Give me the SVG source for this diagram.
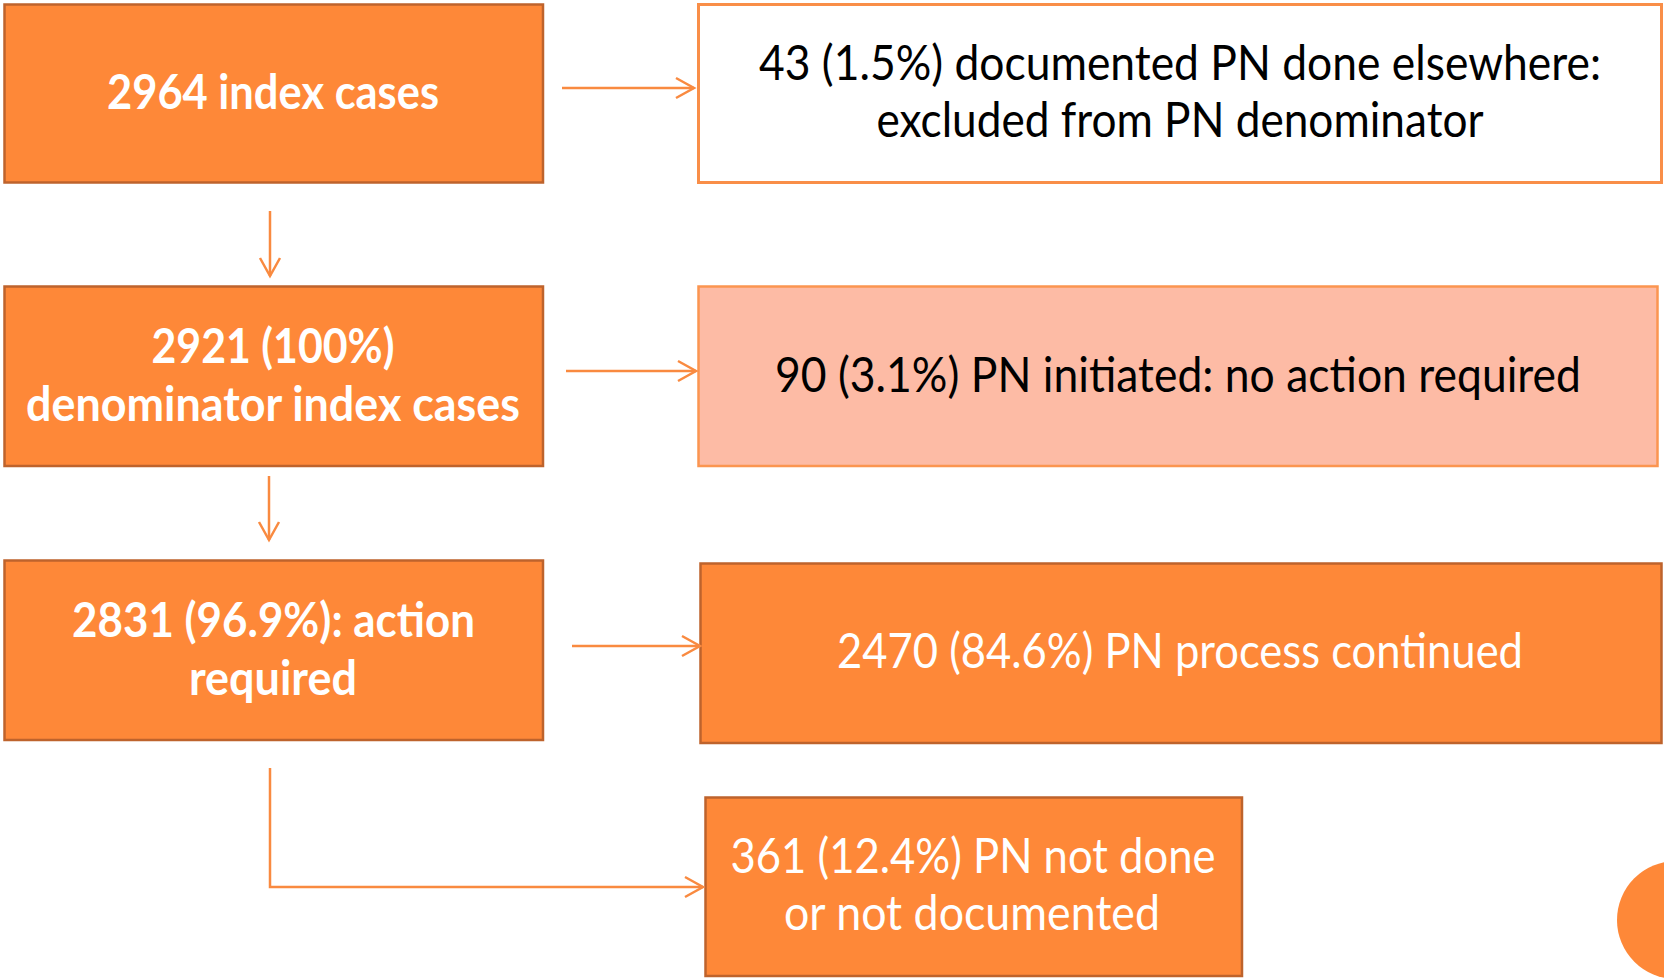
<svg xmlns="http://www.w3.org/2000/svg" width="1664" height="978" viewBox="0 0 1664 978">
  <defs>
    <style>
      .solid { fill: #FE8838; stroke: #BE632C; stroke-width: 2.5; }
      .plain { fill: #FFFFFF; stroke: #F98E48; stroke-width: 3; }
      .soft  { fill: #FDBBA5; stroke: #FB9550; stroke-width: 2.5; }
      .lbl   { font-family: Lato, "Open Sans", "Liberation Sans", sans-serif; font-size: 48px; text-anchor: middle; }
      .bold  { font-weight: bold; fill: #FFFFFF; }
      .light { fill: #FFFFFF; }
      .dark  { fill: #000000; }
      .link  { fill: none; stroke: #F98A40; stroke-width: 2.5; marker-end: url(#chev); }
    </style>
    <marker id="chev" markerUnits="userSpaceOnUse" markerWidth="24" markerHeight="26" refX="21" refY="12" orient="auto" viewBox="0 0 24 26">
      <path d="M3,2 L21,12 L3,22" fill="none" stroke="#F98A40" stroke-width="2.5" stroke-linejoin="miter"/>
    </marker>
  </defs>

  <rect width="1664" height="978" fill="#FFFFFF"/>

  <!-- left column -->
  <g id="index-cases">
    <rect class="solid" x="4.5" y="4.5" width="538.5" height="178"/>
    <text class="lbl bold" x="273" y="109" textLength="332" lengthAdjust="spacingAndGlyphs">2964 index cases</text>
  </g>

  <g id="denominator">
    <rect class="solid" x="4.5" y="286.5" width="538.5" height="179.5"/>
    <text class="lbl bold" x="273" y="363" textLength="243" lengthAdjust="spacingAndGlyphs">2921 (100%)</text>
    <text class="lbl bold" x="273" y="421" textLength="494" lengthAdjust="spacingAndGlyphs">denominator index cases</text>
  </g>

  <g id="action-required">
    <rect class="solid" x="4.5" y="560.5" width="538.5" height="179.5"/>
    <text class="lbl bold" x="273.5" y="637" textLength="403" lengthAdjust="spacingAndGlyphs">2831 (96.9%): action</text>
    <text class="lbl bold" x="273" y="695" textLength="168" lengthAdjust="spacingAndGlyphs">required</text>
  </g>

  <!-- right column -->
  <g id="done-elsewhere">
    <rect class="plain" x="698.5" y="4.5" width="963" height="178"/>
    <text class="lbl dark" x="1180" y="80" textLength="842" lengthAdjust="spacingAndGlyphs">43 (1.5%) documented PN done elsewhere:</text>
    <text class="lbl dark" x="1180" y="137" textLength="607" lengthAdjust="spacingAndGlyphs">excluded from PN denominator</text>
  </g>

  <g id="no-action">
    <rect class="soft" x="698.5" y="286.5" width="959" height="179.5"/>
    <text class="lbl dark" x="1178" y="392" textLength="806" lengthAdjust="spacingAndGlyphs">90 (3.1%) PN initiated: no action required</text>
  </g>

  <g id="continued">
    <rect class="solid" x="700.5" y="563.5" width="961" height="179.5"/>
    <text class="lbl light" x="1180" y="668" textLength="686" lengthAdjust="spacingAndGlyphs">2470 (84.6%) PN process continued</text>
  </g>

  <g id="not-done">
    <rect class="solid" x="705.5" y="797.5" width="536.5" height="178.5"/>
    <text class="lbl light" x="973" y="873" textLength="485" lengthAdjust="spacingAndGlyphs">361 (12.4%) PN not done</text>
    <text class="lbl light" x="972" y="930" textLength="376" lengthAdjust="spacingAndGlyphs">or not documented</text>
  </g>

  <!-- corner decoration -->
  <circle cx="1676" cy="920" r="59" fill="#FE8838"/>

  <!-- connectors -->
  <g id="connectors">
    <path class="link" d="M562,88 H694"/>
    <path class="link" d="M566,371 H696"/>
    <path class="link" d="M572,646 H700"/>
    <path class="link" d="M270,211 V276"/>
    <path class="link" d="M269,476 V540"/>
    <path class="link" d="M270,768 V887 H703"/>
  </g>
</svg>
